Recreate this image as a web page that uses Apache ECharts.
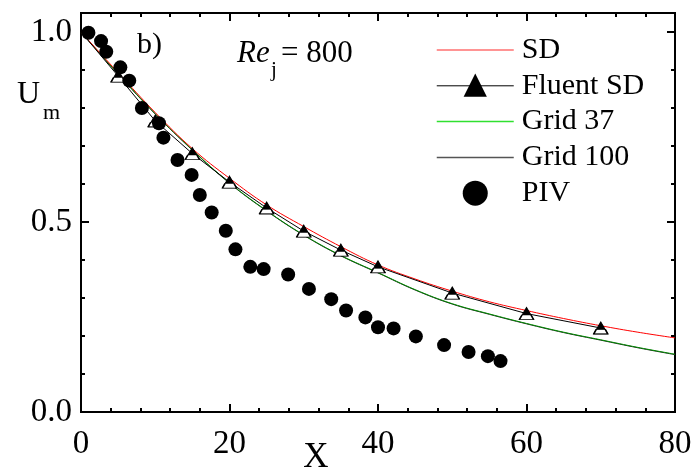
<!DOCTYPE html>
<html>
<head>
<meta charset="utf-8">
<script src="https://cdn.jsdelivr.net/npm/echarts@6/dist/echarts.min.js"></script>
<style>
html,body{margin:0;padding:0;background:#fff;}
#c{width:698px;height:472px;}
</style>
</head>
<body>
<div id="c"></div>
<script>
// ---- data ----
const curveX = [0,5,10,15,20,25,30,35,40,45,50,55,60,65,70,75,80];
const sdY     = [1.0,0.893,0.788,0.693,0.615,0.545,0.488,0.435,0.387,0.350,0.318,0.290,0.267,0.246,0.227,0.210,0.195];
const grid37Y = [1.0,0.890,0.785,0.690,0.603,0.530,0.466,0.412,0.367,0.322,0.285,0.258,0.233,0.210,0.190,0.170,0.152];
const grid100Y= [1.0,0.889,0.784,0.689,0.602,0.529,0.465,0.411,0.366,0.321,0.284,0.257,0.232,0.209,0.189,0.169,0.151];
const fluentX = [0,5,10,15,20,25,30,35,40,50,60,70];
const fluentY = [1.0,0.884,0.766,0.680,0.605,0.537,0.476,0.426,0.382,0.313,0.259,0.221];
const pivX = [1.0,2.7,3.4,5.3,6.5,8.2,10.5,11.1,13.0,14.9,16.0,17.6,19.5,20.8,22.8,24.6,27.9,30.7,33.7,35.7,38.3,40.0,42.1,45.1,48.9,52.2,54.8,56.5];
const pivY = [0.998,0.976,0.948,0.907,0.872,0.800,0.760,0.722,0.663,0.624,0.571,0.525,0.477,0.428,0.382,0.376,0.362,0.324,0.297,0.267,0.249,0.223,0.220,0.199,0.176,0.158,0.147,0.134];
const xTicks = {min:0, max:80, interval:20};
const yTicks = {min:0, max:1.05, interval:0.5};
const legendNames = ['SD','Fluent SD','Grid 37','Grid 100','PIV'];

const zip = (xs, ys) => xs.map((x,i)=>[x, ys[i]]);
const FONT = 'Liberation Serif';

const chart = echarts.init(document.getElementById('c'), null, {renderer:'canvas'});

const axisCommon = {
  axisLine:{show:true, onZero:false, lineStyle:{color:'#000', width:2}},
  axisTick:{show:true, inside:true, length:8, lineStyle:{color:'#000', width:2}},
  minorTick:{show:true, splitNumber:5, length:4, lineStyle:{color:'#000', width:2}},
  splitLine:{show:false}
};

const fluentData = zip(fluentX, fluentY).map((p,i)=> i===0 ? {value:p, symbol:'none'} : p);
const fluentMarks = zip(fluentX, fluentY).slice(1);
const hideSym = {opacity:0};

chart.setOption({
  animation:false,
  backgroundColor:'#fff',
  grid:{left:81, right:23, top:13, bottom:60, show:true, borderColor:'#000', borderWidth:2, backgroundColor:'transparent'},
  xAxis:[
    Object.assign({type:'value', min:xTicks.min, max:xTicks.max, interval:xTicks.interval, position:'bottom',
      axisLabel:{color:'#000', fontFamily:FONT, fontSize:33, margin:16}}, axisCommon),
    Object.assign({type:'value', min:xTicks.min, max:xTicks.max, interval:xTicks.interval, position:'top',
      axisLabel:{show:false}}, axisCommon)
  ],
  yAxis:[
    Object.assign({type:'value', min:yTicks.min, max:yTicks.max, interval:yTicks.interval, position:'left',
      axisLabel:{color:'#000', fontFamily:FONT, fontSize:33, margin:9, showMaxLabel:false,
        formatter:v=>v.toFixed(1)}}, axisCommon),
    Object.assign({type:'value', min:yTicks.min, max:yTicks.max, interval:yTicks.interval, position:'right',
      axisLabel:{show:false}}, axisCommon)
  ],
  legend:{
    data:[
      {name:legendNames[0], itemStyle:hideSym, lineStyle:{color:'#ff7070', width:1.5}},
      {name:legendNames[1], lineStyle:{color:'#000', width:1}},
      {name:legendNames[2], itemStyle:hideSym, lineStyle:{color:'#30e030', width:1.5}},
      {name:legendNames[3], itemStyle:hideSym, lineStyle:{color:'#555', width:1.5}},
      {name:legendNames[4]}
    ],
    orient:'vertical', left:431, top:30,
    itemWidth:77, itemHeight:25, itemGap:5.8, selectedMode:false,
    textStyle:{color:'#000', fontFamily:FONT, fontSize:30, lineHeight:25, padding:[0,0,0,3]}
  },
  series:[
    {name:'Grid 100', type:'line', data:zip(curveX, grid100Y), smooth:0.4, symbol:'none',
      lineStyle:{color:'#222', width:1}, itemStyle:{color:'#222'}, z:2},
    {name:'Grid 37', type:'line', data:zip(curveX, grid37Y), smooth:0.4, symbol:'none',
      lineStyle:{color:'#008c00', width:1}, itemStyle:{color:'#00dd00'}, z:3},
    {name:'SD', type:'line', data:zip(curveX, sdY), smooth:0.4, symbol:'none',
      lineStyle:{color:'#ff0000', width:1}, itemStyle:{color:'#ff0000'}, z:3},
    {name:'Fluent SD', type:'line', data:fluentData, symbol:'triangle', symbolSize:[14,12],
      lineStyle:{color:'#000', width:1}, itemStyle:{color:'#000', borderColor:'#000', borderWidth:1, opacity:1}, z:4},
    {name:'FluentOverlay', type:'scatter', data:fluentMarks, silent:true,
      symbol:'path://M2.5,0 L11.5,0 L14,4 L0,4 Z', symbolSize:[14,4.5], symbolOffset:[0,3.6],
      itemStyle:{color:'#fff', borderColor:'#000', borderWidth:1, opacity:1}, z:5},
    {name:'PIV', type:'scatter', data:zip(pivX, pivY), symbol:'circle', symbolSize:14,
      itemStyle:{color:'#000', opacity:1}, z:6}
  ],
  graphic:[
    {type:'text', left:137, top:30, style:{text:'b)', font:'30px Liberation Serif', fill:'#000'}},
    {type:'text', x:237, y:54, style:{text:'Re', font:'italic 31px Liberation Serif', fill:'#000', verticalAlign:'middle'}},
    {type:'text', x:271, y:70, style:{text:'j', font:'21px Liberation Serif', fill:'#000', verticalAlign:'middle'}},
    {type:'text', x:281, y:54, style:{text:'= 800', font:'31px Liberation Serif', fill:'#000', verticalAlign:'middle'}},
    {type:'text', x:17, y:95, style:{text:'U', font:'32px Liberation Serif', fill:'#000', verticalAlign:'middle'}},
    {type:'text', x:43, y:113, style:{text:'m', font:'22px Liberation Serif', fill:'#000', verticalAlign:'middle'}},
    {type:'text', x:316, y:458, style:{text:'X', font:'35px Liberation Serif', fill:'#000', align:'center', verticalAlign:'middle'}}
  ]
});
</script>
</body>
</html>
